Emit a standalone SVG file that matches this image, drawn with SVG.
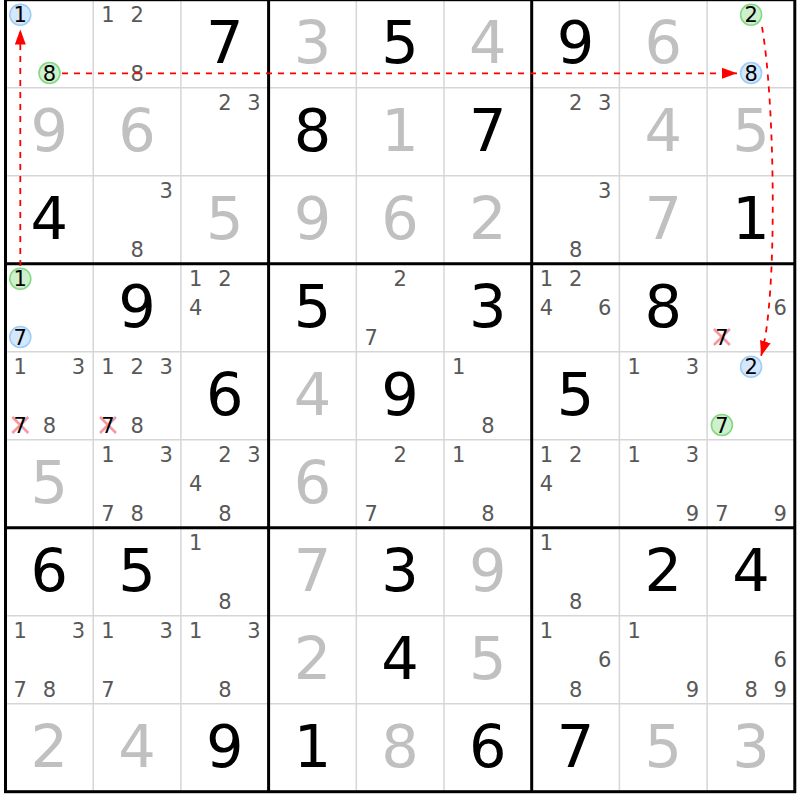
<svg xmlns="http://www.w3.org/2000/svg" width="800" height="800" viewBox="0 0 800 800">
<style>
text{font-family:"DejaVu Sans","Liberation Sans",sans-serif;text-anchor:middle}
.g{font-size:59px;fill:#000}
.s{font-size:59px;fill:#c0c0c0}
.p{font-size:21px;fill:#585858}
.k{font-size:21px;fill:#000}
.thin{stroke:#d6d6d6;stroke-width:1.5;fill:none}
.thick{stroke:#000;stroke-width:3;fill:none}
.cb{fill:#d3e8fc;stroke:#9fcdf6;stroke-width:1.6}
.cg{fill:#cdf0cd;stroke:#86d786;stroke-width:1.6}
.x{stroke:#f29aa2;stroke-width:2.6;fill:none}
.link{stroke:#ff0000;stroke-width:1.8;fill:none;stroke-dasharray:6 6}
</style>
<defs>
<marker id="ah" markerUnits="userSpaceOnUse" markerWidth="16" markerHeight="12" refX="15" refY="5.5" orient="auto">
<path d="M0,0 L15,5.5 L0,11 z" fill="#ff0000"/>
</marker>
</defs>
<rect x="0" y="0" width="800" height="800" fill="#fff"/>
<g id="grid">
<path class="thin" d="M93.2,0 V792 M180.9,0 V792 M356.3,0 V792 M444,0 V792 M619.4,0 V792 M707.1,0 V792 M5.5,87.7 H795 M5.5,175.7 H795 M5.5,351.7 H795 M5.5,439.7 H795 M5.5,615.7 H795 M5.5,703.7 H795"/>
<path class="thick" d="M268.6,0 V792 M531.7,0 V792 M5.5,263.7 H795 M5.5,527.7 H795"/>
<rect class="thick" x="5.5" y="-0.3" width="789.3" height="792"/>
</g>
<!-- Row 1 -->
<g id="r1c1" transform="translate(5.5,-0.3)"><circle class="cb" cx="14.8" cy="15" r="10.5"/><text class="k" x="14.8" y="22.6">1</text><circle class="cg" cx="44" cy="73.3" r="10.5"/><text class="k" x="44" y="80.9">8</text></g>
<g id="r1c2" transform="translate(93.2,-0.3)"><text class="p" x="14.8" y="22.6">1</text><text class="p" x="44" y="22.6">2</text><text class="p" x="44" y="80.9">8</text></g>
<g id="r1c3" transform="translate(180.9,-0.3)"><text class="g" x="43.85" y="63">7</text></g>
<g id="r1c4" transform="translate(268.6,-0.3)"><text class="s" x="43.85" y="63">3</text></g>
<g id="r1c5" transform="translate(356.3,-0.3)"><text class="g" x="43.85" y="63">5</text></g>
<g id="r1c6" transform="translate(444,-0.3)"><text class="s" x="43.85" y="63">4</text></g>
<g id="r1c7" transform="translate(531.7,-0.3)"><text class="g" x="43.85" y="63">9</text></g>
<g id="r1c8" transform="translate(619.4,-0.3)"><text class="s" x="43.85" y="63">6</text></g>
<g id="r1c9" transform="translate(707.1,-0.3)"><circle class="cg" cx="44" cy="15" r="10.5"/><text class="k" x="44" y="22.6">2</text><circle class="cb" cx="44" cy="73.3" r="10.5"/><text class="k" x="44" y="80.9">8</text></g>
<!-- Row 2 -->
<g id="r2c1" transform="translate(5.5,87.7)"><text class="s" x="43.85" y="63">9</text></g>
<g id="r2c2" transform="translate(93.2,87.7)"><text class="s" x="43.85" y="63">6</text></g>
<g id="r2c3" transform="translate(180.9,87.7)"><text class="p" x="44" y="22.6">2</text><text class="p" x="73" y="22.6">3</text></g>
<g id="r2c4" transform="translate(268.6,87.7)"><text class="g" x="43.85" y="63">8</text></g>
<g id="r2c5" transform="translate(356.3,87.7)"><text class="s" x="43.85" y="63">1</text></g>
<g id="r2c6" transform="translate(444,87.7)"><text class="g" x="43.85" y="63">7</text></g>
<g id="r2c7" transform="translate(531.7,87.7)"><text class="p" x="44" y="22.6">2</text><text class="p" x="73" y="22.6">3</text></g>
<g id="r2c8" transform="translate(619.4,87.7)"><text class="s" x="43.85" y="63">4</text></g>
<g id="r2c9" transform="translate(707.1,87.7)"><text class="s" x="43.85" y="63">5</text></g>
<!-- Row 3 -->
<g id="r3c1" transform="translate(5.5,175.7)"><text class="g" x="43.85" y="63">4</text></g>
<g id="r3c2" transform="translate(93.2,175.7)"><text class="p" x="73" y="22.6">3</text><text class="p" x="44" y="80.9">8</text></g>
<g id="r3c3" transform="translate(180.9,175.7)"><text class="s" x="43.85" y="63">5</text></g>
<g id="r3c4" transform="translate(268.6,175.7)"><text class="s" x="43.85" y="63">9</text></g>
<g id="r3c5" transform="translate(356.3,175.7)"><text class="s" x="43.85" y="63">6</text></g>
<g id="r3c6" transform="translate(444,175.7)"><text class="s" x="43.85" y="63">2</text></g>
<g id="r3c7" transform="translate(531.7,175.7)"><text class="p" x="73" y="22.6">3</text><text class="p" x="44" y="80.9">8</text></g>
<g id="r3c8" transform="translate(619.4,175.7)"><text class="s" x="43.85" y="63">7</text></g>
<g id="r3c9" transform="translate(707.1,175.7)"><text class="g" x="43.85" y="63">1</text></g>
<!-- Row 4 -->
<g id="r4c1" transform="translate(5.5,263.7)"><circle class="cg" cx="14.8" cy="15" r="10.5"/><text class="k" x="14.8" y="22.6">1</text><circle class="cb" cx="14.8" cy="73.3" r="10.5"/><text class="k" x="14.8" y="80.9">7</text></g>
<g id="r4c2" transform="translate(93.2,263.7)"><text class="g" x="43.85" y="63">9</text></g>
<g id="r4c3" transform="translate(180.9,263.7)"><text class="p" x="14.8" y="22.6">1</text><text class="p" x="44" y="22.6">2</text><text class="p" x="14.8" y="51.8">4</text></g>
<g id="r4c4" transform="translate(268.6,263.7)"><text class="g" x="43.85" y="63">5</text></g>
<g id="r4c5" transform="translate(356.3,263.7)"><text class="p" x="44" y="22.6">2</text><text class="p" x="14.8" y="80.9">7</text></g>
<g id="r4c6" transform="translate(444,263.7)"><text class="g" x="43.85" y="63">3</text></g>
<g id="r4c7" transform="translate(531.7,263.7)"><text class="p" x="14.8" y="22.6">1</text><text class="p" x="44" y="22.6">2</text><text class="p" x="14.8" y="51.8">4</text><text class="p" x="73" y="51.8">6</text></g>
<g id="r4c8" transform="translate(619.4,263.7)"><text class="g" x="43.85" y="63">8</text></g>
<g id="r4c9" transform="translate(707.1,263.7)"><text class="p" x="73" y="51.8">6</text><path class="x" d="M6.8,65.3 L22.8,81.3 M22.8,65.3 L6.8,81.3"/><text class="k" x="14.8" y="80.9" fill="#222">7</text></g>
<!-- Row 5 -->
<g id="r5c1" transform="translate(5.5,351.7)"><text class="p" x="14.8" y="22.6">1</text><text class="p" x="73" y="22.6">3</text><path class="x" d="M6.8,65.3 L22.8,81.3 M22.8,65.3 L6.8,81.3"/><text class="k" x="14.8" y="80.9">7</text><text class="p" x="44" y="80.9">8</text></g>
<g id="r5c2" transform="translate(93.2,351.7)"><text class="p" x="14.8" y="22.6">1</text><text class="p" x="44" y="22.6">2</text><text class="p" x="73" y="22.6">3</text><path class="x" d="M6.8,65.3 L22.8,81.3 M22.8,65.3 L6.8,81.3"/><text class="k" x="14.8" y="80.9">7</text><text class="p" x="44" y="80.9">8</text></g>
<g id="r5c3" transform="translate(180.9,351.7)"><text class="g" x="43.85" y="63">6</text></g>
<g id="r5c4" transform="translate(268.6,351.7)"><text class="s" x="43.85" y="63">4</text></g>
<g id="r5c5" transform="translate(356.3,351.7)"><text class="g" x="43.85" y="63">9</text></g>
<g id="r5c6" transform="translate(444,351.7)"><text class="p" x="14.8" y="22.6">1</text><text class="p" x="44" y="80.9">8</text></g>
<g id="r5c7" transform="translate(531.7,351.7)"><text class="g" x="43.85" y="63">5</text></g>
<g id="r5c8" transform="translate(619.4,351.7)"><text class="p" x="14.8" y="22.6">1</text><text class="p" x="73" y="22.6">3</text></g>
<g id="r5c9" transform="translate(707.1,351.7)"><circle class="cb" cx="44" cy="15" r="10.5"/><text class="k" x="44" y="22.6">2</text><circle class="cg" cx="14.8" cy="73.3" r="10.5"/><text class="k" x="14.8" y="80.9">7</text></g>
<!-- Row 6 -->
<g id="r6c1" transform="translate(5.5,439.7)"><text class="s" x="43.85" y="63">5</text></g>
<g id="r6c2" transform="translate(93.2,439.7)"><text class="p" x="14.8" y="22.6">1</text><text class="p" x="73" y="22.6">3</text><text class="p" x="14.8" y="80.9">7</text><text class="p" x="44" y="80.9">8</text></g>
<g id="r6c3" transform="translate(180.9,439.7)"><text class="p" x="44" y="22.6">2</text><text class="p" x="73" y="22.6">3</text><text class="p" x="14.8" y="51.8">4</text><text class="p" x="44" y="80.9">8</text></g>
<g id="r6c4" transform="translate(268.6,439.7)"><text class="s" x="43.85" y="63">6</text></g>
<g id="r6c5" transform="translate(356.3,439.7)"><text class="p" x="44" y="22.6">2</text><text class="p" x="14.8" y="80.9">7</text></g>
<g id="r6c6" transform="translate(444,439.7)"><text class="p" x="14.8" y="22.6">1</text><text class="p" x="44" y="80.9">8</text></g>
<g id="r6c7" transform="translate(531.7,439.7)"><text class="p" x="14.8" y="22.6">1</text><text class="p" x="44" y="22.6">2</text><text class="p" x="14.8" y="51.8">4</text></g>
<g id="r6c8" transform="translate(619.4,439.7)"><text class="p" x="14.8" y="22.6">1</text><text class="p" x="73" y="22.6">3</text><text class="p" x="73" y="80.9">9</text></g>
<g id="r6c9" transform="translate(707.1,439.7)"><text class="p" x="14.8" y="80.9">7</text><text class="p" x="73" y="80.9">9</text></g>
<!-- Row 7 -->
<g id="r7c1" transform="translate(5.5,527.7)"><text class="g" x="43.85" y="63">6</text></g>
<g id="r7c2" transform="translate(93.2,527.7)"><text class="g" x="43.85" y="63">5</text></g>
<g id="r7c3" transform="translate(180.9,527.7)"><text class="p" x="14.8" y="22.6">1</text><text class="p" x="44" y="80.9">8</text></g>
<g id="r7c4" transform="translate(268.6,527.7)"><text class="s" x="43.85" y="63">7</text></g>
<g id="r7c5" transform="translate(356.3,527.7)"><text class="g" x="43.85" y="63">3</text></g>
<g id="r7c6" transform="translate(444,527.7)"><text class="s" x="43.85" y="63">9</text></g>
<g id="r7c7" transform="translate(531.7,527.7)"><text class="p" x="14.8" y="22.6">1</text><text class="p" x="44" y="80.9">8</text></g>
<g id="r7c8" transform="translate(619.4,527.7)"><text class="g" x="43.85" y="63">2</text></g>
<g id="r7c9" transform="translate(707.1,527.7)"><text class="g" x="43.85" y="63">4</text></g>
<!-- Row 8 -->
<g id="r8c1" transform="translate(5.5,615.7)"><text class="p" x="14.8" y="22.6">1</text><text class="p" x="73" y="22.6">3</text><text class="p" x="14.8" y="80.9">7</text><text class="p" x="44" y="80.9">8</text></g>
<g id="r8c2" transform="translate(93.2,615.7)"><text class="p" x="14.8" y="22.6">1</text><text class="p" x="73" y="22.6">3</text><text class="p" x="14.8" y="80.9">7</text></g>
<g id="r8c3" transform="translate(180.9,615.7)"><text class="p" x="14.8" y="22.6">1</text><text class="p" x="73" y="22.6">3</text><text class="p" x="44" y="80.9">8</text></g>
<g id="r8c4" transform="translate(268.6,615.7)"><text class="s" x="43.85" y="63">2</text></g>
<g id="r8c5" transform="translate(356.3,615.7)"><text class="g" x="43.85" y="63">4</text></g>
<g id="r8c6" transform="translate(444,615.7)"><text class="s" x="43.85" y="63">5</text></g>
<g id="r8c7" transform="translate(531.7,615.7)"><text class="p" x="14.8" y="22.6">1</text><text class="p" x="73" y="51.8">6</text><text class="p" x="44" y="80.9">8</text></g>
<g id="r8c8" transform="translate(619.4,615.7)"><text class="p" x="14.8" y="22.6">1</text><text class="p" x="73" y="80.9">9</text></g>
<g id="r8c9" transform="translate(707.1,615.7)"><text class="p" x="73" y="51.8">6</text><text class="p" x="44" y="80.9">8</text><text class="p" x="73" y="80.9">9</text></g>
<!-- Row 9 -->
<g id="r9c1" transform="translate(5.5,703.7)"><text class="s" x="43.85" y="63">2</text></g>
<g id="r9c2" transform="translate(93.2,703.7)"><text class="s" x="43.85" y="63">4</text></g>
<g id="r9c3" transform="translate(180.9,703.7)"><text class="g" x="43.85" y="63">9</text></g>
<g id="r9c4" transform="translate(268.6,703.7)"><text class="g" x="43.85" y="63">1</text></g>
<g id="r9c5" transform="translate(356.3,703.7)"><text class="s" x="43.85" y="63">8</text></g>
<g id="r9c6" transform="translate(444,703.7)"><text class="g" x="43.85" y="63">6</text></g>
<g id="r9c7" transform="translate(531.7,703.7)"><text class="g" x="43.85" y="63">7</text></g>
<g id="r9c8" transform="translate(619.4,703.7)"><text class="s" x="43.85" y="63">5</text></g>
<g id="r9c9" transform="translate(707.1,703.7)"><text class="s" x="43.85" y="63">3</text></g>
<g id="connectors">
<path class="link" d="M20.3,266 L20.3,29.5" marker-end="url(#ah)"/>
<path class="link" d="M62,73.3 L737,73.3" marker-end="url(#ah)"/>
<path class="link" d="M762,27 C775,100 778,300 761,356" marker-end="url(#ah)"/>
</g>
</svg>
